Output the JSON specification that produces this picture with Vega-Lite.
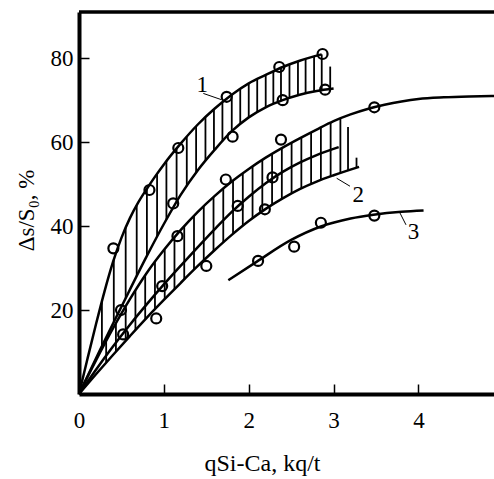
{
  "$schema": "https://vega.github.io/schema/vega-lite/v6.json",
  "autosize": "none",
  "width": 415,
  "height": 382,
  "padding": {"left": 79, "top": 12, "right": 0, "bottom": 85},
  "background": "white",
  "config": {
    "view": {"stroke": null},
    "font": "Liberation Serif, Times New Roman, serif",
    "axis": {"grid": false, "titleFont": "Liberation Serif, Times New Roman, serif", "labelFont": "Liberation Serif, Times New Roman, serif"}
  },
  "datasets": {
    "curves": [
      {"c": "1U", "x": 0, "y": 0}, {"c": "1U", "x": 0.1, "y": 8.4}, {"c": "1U", "x": 0.2, "y": 16.6}, {"c": "1U", "x": 0.3, "y": 24.4}, {"c": "1U", "x": 0.4, "y": 31.4}, {"c": "1U", "x": 0.5, "y": 37.2}, {"c": "1U", "x": 0.6, "y": 41.9}, {"c": "1U", "x": 0.7, "y": 45.7}, {"c": "1U", "x": 0.8, "y": 48.9}, {"c": "1U", "x": 0.9, "y": 51.9}, {"c": "1U", "x": 1.0, "y": 54.7}, {"c": "1U", "x": 1.2, "y": 59.7}, {"c": "1U", "x": 1.4, "y": 64.2}, {"c": "1U", "x": 1.6, "y": 68.0}, {"c": "1U", "x": 1.8, "y": 71.3}, {"c": "1U", "x": 2.0, "y": 74.0}, {"c": "1U", "x": 2.2, "y": 76.0}, {"c": "1U", "x": 2.4, "y": 77.9}, {"c": "1U", "x": 2.6, "y": 79.4}, {"c": "1U", "x": 2.86, "y": 80.9},
      {"c": "1L", "x": 0, "y": 0}, {"c": "1L", "x": 0.25, "y": 10.6}, {"c": "1L", "x": 0.5, "y": 20.8}, {"c": "1L", "x": 0.8, "y": 32.9}, {"c": "1L", "x": 1.0, "y": 40.5}, {"c": "1L", "x": 1.2, "y": 47.5}, {"c": "1L", "x": 1.4, "y": 53.3}, {"c": "1L", "x": 1.6, "y": 58.2}, {"c": "1L", "x": 1.8, "y": 62.6}, {"c": "1L", "x": 2.0, "y": 65.9}, {"c": "1L", "x": 2.2, "y": 68.3}, {"c": "1L", "x": 2.4, "y": 70.0}, {"c": "1L", "x": 2.6, "y": 71.3}, {"c": "1L", "x": 2.8, "y": 72.2}, {"c": "1L", "x": 3.0, "y": 72.8},
      {"c": "2T", "x": 0, "y": 0}, {"c": "2T", "x": 0.2, "y": 8.0}, {"c": "2T", "x": 0.4, "y": 15.6}, {"c": "2T", "x": 0.6, "y": 22.6}, {"c": "2T", "x": 0.8, "y": 28.9}, {"c": "2T", "x": 1.0, "y": 34.3}, {"c": "2T", "x": 1.2, "y": 39.1}, {"c": "2T", "x": 1.4, "y": 43.4}, {"c": "2T", "x": 1.6, "y": 47.2}, {"c": "2T", "x": 1.8, "y": 50.6}, {"c": "2T", "x": 2.0, "y": 53.6}, {"c": "2T", "x": 2.2, "y": 56.3}, {"c": "2T", "x": 2.4, "y": 58.7}, {"c": "2T", "x": 2.6, "y": 60.9}, {"c": "2T", "x": 2.8, "y": 63.0}, {"c": "2T", "x": 3.0, "y": 65.0}, {"c": "2T", "x": 3.2, "y": 66.6}, {"c": "2T", "x": 3.4, "y": 67.9}, {"c": "2T", "x": 3.6, "y": 68.9}, {"c": "2T", "x": 3.8, "y": 69.7}, {"c": "2T", "x": 4.0, "y": 70.3}, {"c": "2T", "x": 4.3, "y": 70.7}, {"c": "2T", "x": 4.6, "y": 70.9}, {"c": "2T", "x": 4.89, "y": 71.0},
      {"c": "2M", "x": 0, "y": 0}, {"c": "2M", "x": 0.2, "y": 5.8}, {"c": "2M", "x": 0.4, "y": 11.3}, {"c": "2M", "x": 0.6, "y": 16.5}, {"c": "2M", "x": 0.8, "y": 21.4}, {"c": "2M", "x": 1.0, "y": 26.1}, {"c": "2M", "x": 1.2, "y": 30.6}, {"c": "2M", "x": 1.4, "y": 35.0}, {"c": "2M", "x": 1.6, "y": 39.3}, {"c": "2M", "x": 1.8, "y": 43.4}, {"c": "2M", "x": 2.0, "y": 47.0}, {"c": "2M", "x": 2.2, "y": 50.2}, {"c": "2M", "x": 2.4, "y": 52.9}, {"c": "2M", "x": 2.6, "y": 55.1}, {"c": "2M", "x": 2.8, "y": 56.9}, {"c": "2M", "x": 3.06, "y": 58.8},
      {"c": "2L", "x": 0, "y": 0}, {"c": "2L", "x": 0.2, "y": 4.7}, {"c": "2L", "x": 0.4, "y": 9.3}, {"c": "2L", "x": 0.6, "y": 13.8}, {"c": "2L", "x": 0.8, "y": 18.2}, {"c": "2L", "x": 1.0, "y": 22.4}, {"c": "2L", "x": 1.2, "y": 26.5}, {"c": "2L", "x": 1.4, "y": 30.5}, {"c": "2L", "x": 1.6, "y": 34.3}, {"c": "2L", "x": 1.8, "y": 37.9}, {"c": "2L", "x": 2.0, "y": 41.2}, {"c": "2L", "x": 2.2, "y": 44.1}, {"c": "2L", "x": 2.4, "y": 46.6}, {"c": "2L", "x": 2.6, "y": 48.8}, {"c": "2L", "x": 2.8, "y": 50.6}, {"c": "2L", "x": 3.0, "y": 52.1}, {"c": "2L", "x": 3.3, "y": 54.1},
      {"c": "3", "x": 1.76, "y": 27.1}, {"c": "3", "x": 2.1, "y": 31.6}, {"c": "3", "x": 2.5, "y": 36.7}, {"c": "3", "x": 2.85, "y": 39.9}, {"c": "3", "x": 3.2, "y": 41.8}, {"c": "3", "x": 3.47, "y": 42.7}, {"c": "3", "x": 3.8, "y": 43.4}, {"c": "3", "x": 4.06, "y": 43.7}
    ],
    "hatch": [
      {"x": 0.27, "y": 22.1, "y2": 11.4}, {"x": 0.41, "y": 32.0, "y2": 17.1}, {"x": 0.55, "y": 39.6, "y2": 22.8}, {"x": 0.68, "y": 44.9, "y2": 28.1}, {"x": 0.8, "y": 48.9, "y2": 32.9}, {"x": 0.92, "y": 52.5, "y2": 37.5}, {"x": 1.03, "y": 55.5, "y2": 41.6}, {"x": 1.15, "y": 58.5, "y2": 45.8}, {"x": 1.27, "y": 61.3, "y2": 49.5}, {"x": 1.38, "y": 63.8, "y2": 52.7}, {"x": 1.49, "y": 65.9, "y2": 55.5}, {"x": 1.59, "y": 67.8, "y2": 58.0}, {"x": 1.69, "y": 69.5, "y2": 60.2}, {"x": 1.8, "y": 71.3, "y2": 62.6}, {"x": 1.9, "y": 72.7, "y2": 64.3}, {"x": 2.0, "y": 74.0, "y2": 65.9}, {"x": 2.1, "y": 75.0, "y2": 67.1}, {"x": 2.2, "y": 76.0, "y2": 68.3}, {"x": 2.29, "y": 76.9, "y2": 69.1}, {"x": 2.38, "y": 77.7, "y2": 69.8}, {"x": 2.48, "y": 78.5, "y2": 70.5}, {"x": 2.58, "y": 79.3, "y2": 71.2}, {"x": 2.67, "y": 79.8, "y2": 71.6}, {"x": 2.77, "y": 80.4, "y2": 72.1}, {"x": 2.86, "y": 80.9, "y2": 72.4}, {"x": 2.96, "y": 78.0, "y2": 72.7},
      {"x": 0.32, "y": 12.6, "y2": 7.5}, {"x": 0.435, "y": 16.8, "y2": 10.1}, {"x": 0.55, "y": 20.9, "y2": 12.7}, {"x": 0.665, "y": 24.6, "y2": 15.2}, {"x": 0.78, "y": 28.3, "y2": 17.8}, {"x": 0.895, "y": 31.5, "y2": 20.2}, {"x": 1.01, "y": 34.5, "y2": 22.6}, {"x": 1.125, "y": 37.3, "y2": 25.0}, {"x": 1.24, "y": 40.0, "y2": 27.3}, {"x": 1.355, "y": 42.4, "y2": 29.6}, {"x": 1.47, "y": 44.7, "y2": 31.8}, {"x": 1.585, "y": 46.9, "y2": 34.0}, {"x": 1.70, "y": 48.9, "y2": 36.1}, {"x": 1.815, "y": 50.8, "y2": 38.1}, {"x": 1.93, "y": 52.6, "y2": 40.0}, {"x": 2.045, "y": 54.2, "y2": 41.9}, {"x": 2.16, "y": 55.8, "y2": 43.5}, {"x": 2.275, "y": 57.2, "y2": 45.0}, {"x": 2.39, "y": 58.6, "y2": 46.5}, {"x": 2.505, "y": 59.9, "y2": 47.8}, {"x": 2.62, "y": 61.1, "y2": 49.0}, {"x": 2.735, "y": 62.4, "y2": 50.0}, {"x": 2.85, "y": 63.6, "y2": 51.0}, {"x": 2.965, "y": 64.7, "y2": 51.8}, {"x": 3.08, "y": 65.6, "y2": 52.6}, {"x": 3.17, "y": 63.6, "y2": 53.2}, {"x": 3.27, "y": 56.3, "y2": 53.9}
    ],
    "points": [
      {"x": 0.405, "y": 34.7}, {"x": 0.83, "y": 48.6}, {"x": 1.17, "y": 58.6}, {"x": 1.74, "y": 70.8}, {"x": 2.36, "y": 77.9}, {"x": 2.87, "y": 81.0},
      {"x": 0.495, "y": 20.0}, {"x": 1.11, "y": 45.4}, {"x": 1.81, "y": 61.3}, {"x": 2.40, "y": 70.0}, {"x": 2.90, "y": 72.5},
      {"x": 0.52, "y": 14.2}, {"x": 0.91, "y": 18.0}, {"x": 0.98, "y": 25.7}, {"x": 1.16, "y": 37.6}, {"x": 1.50, "y": 30.5}, {"x": 1.73, "y": 51.1}, {"x": 1.87, "y": 44.8}, {"x": 2.19, "y": 44.0}, {"x": 2.28, "y": 51.6}, {"x": 2.38, "y": 60.6}, {"x": 3.48, "y": 68.3},
      {"x": 2.11, "y": 31.7}, {"x": 2.535, "y": 35.1}, {"x": 2.85, "y": 40.8}, {"x": 3.48, "y": 42.5}
    ],
    "labels": [
      {"x": 1.453, "y": 72.0, "t": "1"}, {"x": 3.29, "y": 45.8, "t": "2"}, {"x": 3.94, "y": 36.9, "t": "3"}
    ],
    "leaders": [
      {"x": 1.465, "y": 71.6, "x2": 1.68, "y2": 70.1}, {"x": 3.036, "y": 51.4, "x2": 3.193, "y2": 49.5}, {"x": 3.78, "y": 43.2, "x2": 3.853, "y2": 40.3}
    ],
    "frame": [{"x": 0, "x2": 4.89, "y": 91}]
  },
  "encoding": {
    "x": {"field": "x", "type": "quantitative", "scale": {"domain": [0, 4.89], "nice": false, "zero": false},
      "axis": {"values": [0, 1, 2, 3, 4], "title": "qSi-Ca, kq/t", "domainColor": "black", "domainWidth": 4, "tickColor": "black", "tickWidth": 1.5, "tickSize": -10, "labelFont": "Liberation Serif, Times New Roman, serif", "labelFontSize": 23, "labelColor": "black", "labelPadding": 43, "labelBaseline": "alphabetic", "labelFlush": false, "labelOverlap": false, "titleFont": "Liberation Serif, Times New Roman, serif", "titleFontSize": 24, "titleFontWeight": "normal", "titleColor": "black", "titleX": 183, "titleY": 76, "titleBaseline": "alphabetic", "titleAlign": "center"}},
    "y": {"field": "y", "type": "quantitative", "scale": {"domain": [0, 91], "nice": false, "zero": false},
      "axis": {"values": [20, 40, 60, 80], "title": "Δs/S₀, %", "domainColor": "black", "domainWidth": 4, "tickColor": "black", "tickWidth": 1.5, "tickSize": -10, "labelFont": "Liberation Serif, Times New Roman, serif", "labelFontSize": 23, "labelColor": "black", "labelPadding": 16, "labelAlign": "right", "labelBaseline": "middle", "labelFlush": false, "labelOverlap": false, "titleFont": "Liberation Serif, Times New Roman, serif", "titleFontSize": 23, "titleFontWeight": "normal", "titleColor": "black", "titleAngle": -90, "titleX": -46, "titleY": 198, "titleBaseline": "alphabetic", "titleAlign": "center"}}
  },
  "layer": [
    {
      "data": {"name": "hatch"},
      "mark": {"type": "rule", "stroke": "black", "strokeWidth": 1.8},
      "encoding": {"y2": {"field": "y2"}}
    },
    {
      "data": {"name": "curves"},
      "mark": {"type": "line", "stroke": "black", "strokeWidth": 2.5, "interpolate": "monotone"},
      "encoding": {"detail": {"field": "c"}}
    },
    {
      "data": {"name": "points"},
      "mark": {"type": "point", "shape": "circle", "filled": false, "stroke": "black", "strokeWidth": 2.2, "size": 100, "opacity": 1},
      "encoding": {}
    },
    {
      "data": {"name": "leaders"},
      "mark": {"type": "rule", "stroke": "black", "strokeWidth": 1},
      "encoding": {"x2": {"field": "x2"}, "y2": {"field": "y2"}}
    },
    {
      "data": {"name": "labels"},
      "mark": {"type": "text", "font": "Liberation Serif, Times New Roman, serif", "fontSize": 23, "color": "black", "align": "center", "baseline": "alphabetic"},
      "encoding": {"text": {"field": "t"}}
    },
    {
      "data": {"name": "frame"},
      "mark": {"type": "rule", "stroke": "black", "strokeWidth": 3.5},
      "encoding": {"x2": {"field": "x2"}}
    }
  ]
}
